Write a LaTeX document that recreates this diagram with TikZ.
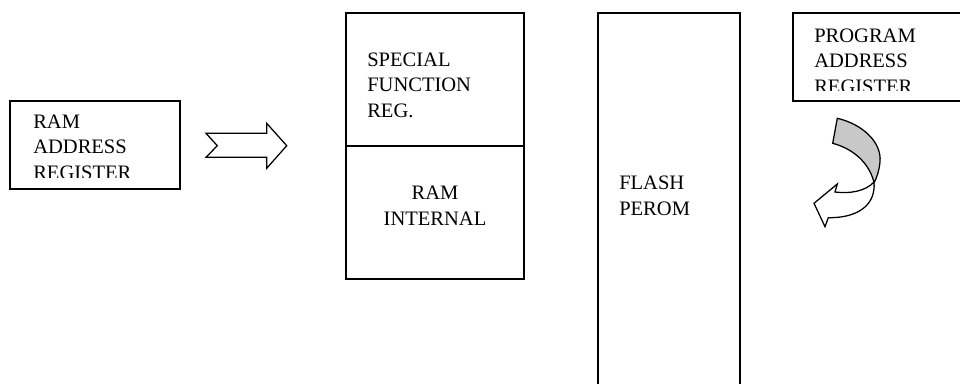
\documentclass[tikz,border=0pt]{standalone}
\usepackage{fontspec}
\setmainfont{Liberation Serif}
\usepackage{tikz}
\usetikzlibrary{calc}
\definecolor{foldGray}{HTML}{C8C8C8}
\tikzset{
    regbox/.style={
        rectangle, draw=black, line width=1pt, fill=white,
        inner sep=0pt, outer sep=0pt
    },
    regtxt/.style={
        anchor=base west, align=left, inner sep=0pt,
        font=\fontsize{14.6pt}{17.8pt}\selectfont
    },
    blockarrow/.style={
        draw=black, line width=0.9pt, line join=miter
    }
}

\begin{document}
\begin{tikzpicture}[x=0.025cm, y=-0.025cm]
    \useasboundingbox (0,0) rectangle (960,383);
    \clip (0,0) rectangle (960,383);

    % boxes
    \node[regbox, minimum width=4.25cm, minimum height=2.2cm] (ram_reg) at (95,145) {};
    \node[regbox, minimum width=4.45cm, minimum height=3.325cm] (sfr) at (435,79.5) {};
    \node[regbox, minimum width=4.45cm, minimum height=3.325cm] (ram_int) at (435,212.5) {};
    \node[regbox, minimum width=3.55cm, minimum height=10.175cm] (flash) at (669,216.5) {};
    \node[regbox, minimum width=4.55cm, minimum height=2.2cm] (prog_reg) at (884,57) {};

    % labels, placed by their last baseline (last line of the register boxes is cut by the frame)
    \begin{scope}
        \clip (ram_reg.north west) rectangle ($(ram_reg.south east)+(0,-12)$);
        \node[regtxt] (ram_reg_txt) at (33,179) {RAM\\ADDRESS\\REGISTER};
    \end{scope}
    \node[regtxt] (sfr_txt) at (367,117) {SPECIAL\\FUNCTION\\REG.};
    \node[regtxt, anchor=base, align=center] (ram_int_txt) at (435,225) {RAM\\INTERNAL};
    \node[regtxt] (flash_txt) at (619,215) {FLASH\\PEROM};
    \begin{scope}
        \clip (prog_reg.north west) rectangle ($(prog_reg.south east)+(0,-11)$);
        \node[regtxt] (prog_reg_txt) at (814,93) {PROGRAM\\ADDRESS\\REGISTER};
    \end{scope}

    % hollow arrow towards the memory blocks
    \draw[blockarrow] (206,133.3) -- (266.7,133.3) -- (266.7,123.3) -- (286.7,145.7)
        -- (266.7,168.3) -- (266.7,157.3) -- (206,157.3) -- (217.3,145.7) -- cycle;

    % curved arrow under the program address register
    \filldraw[blockarrow, fill=foldGray] (837.3,118.3) .. controls (862,124) and (882,142) .. (880,162)
        .. controls (879,171) and (877,177) .. (874,183)
        .. controls (871,168) and (858,150) .. (832.7,143.3) -- cycle;
    \filldraw[blockarrow, fill=white] (874,182) .. controls (866,191) and (850,194) .. (835,192)
        -- (837.3,184) -- (814,203.3) -- (825,226.7) -- (828.3,217.7)
        .. controls (858,218) and (876,205) .. (874,182) -- cycle;
\end{tikzpicture}
\end{document}
